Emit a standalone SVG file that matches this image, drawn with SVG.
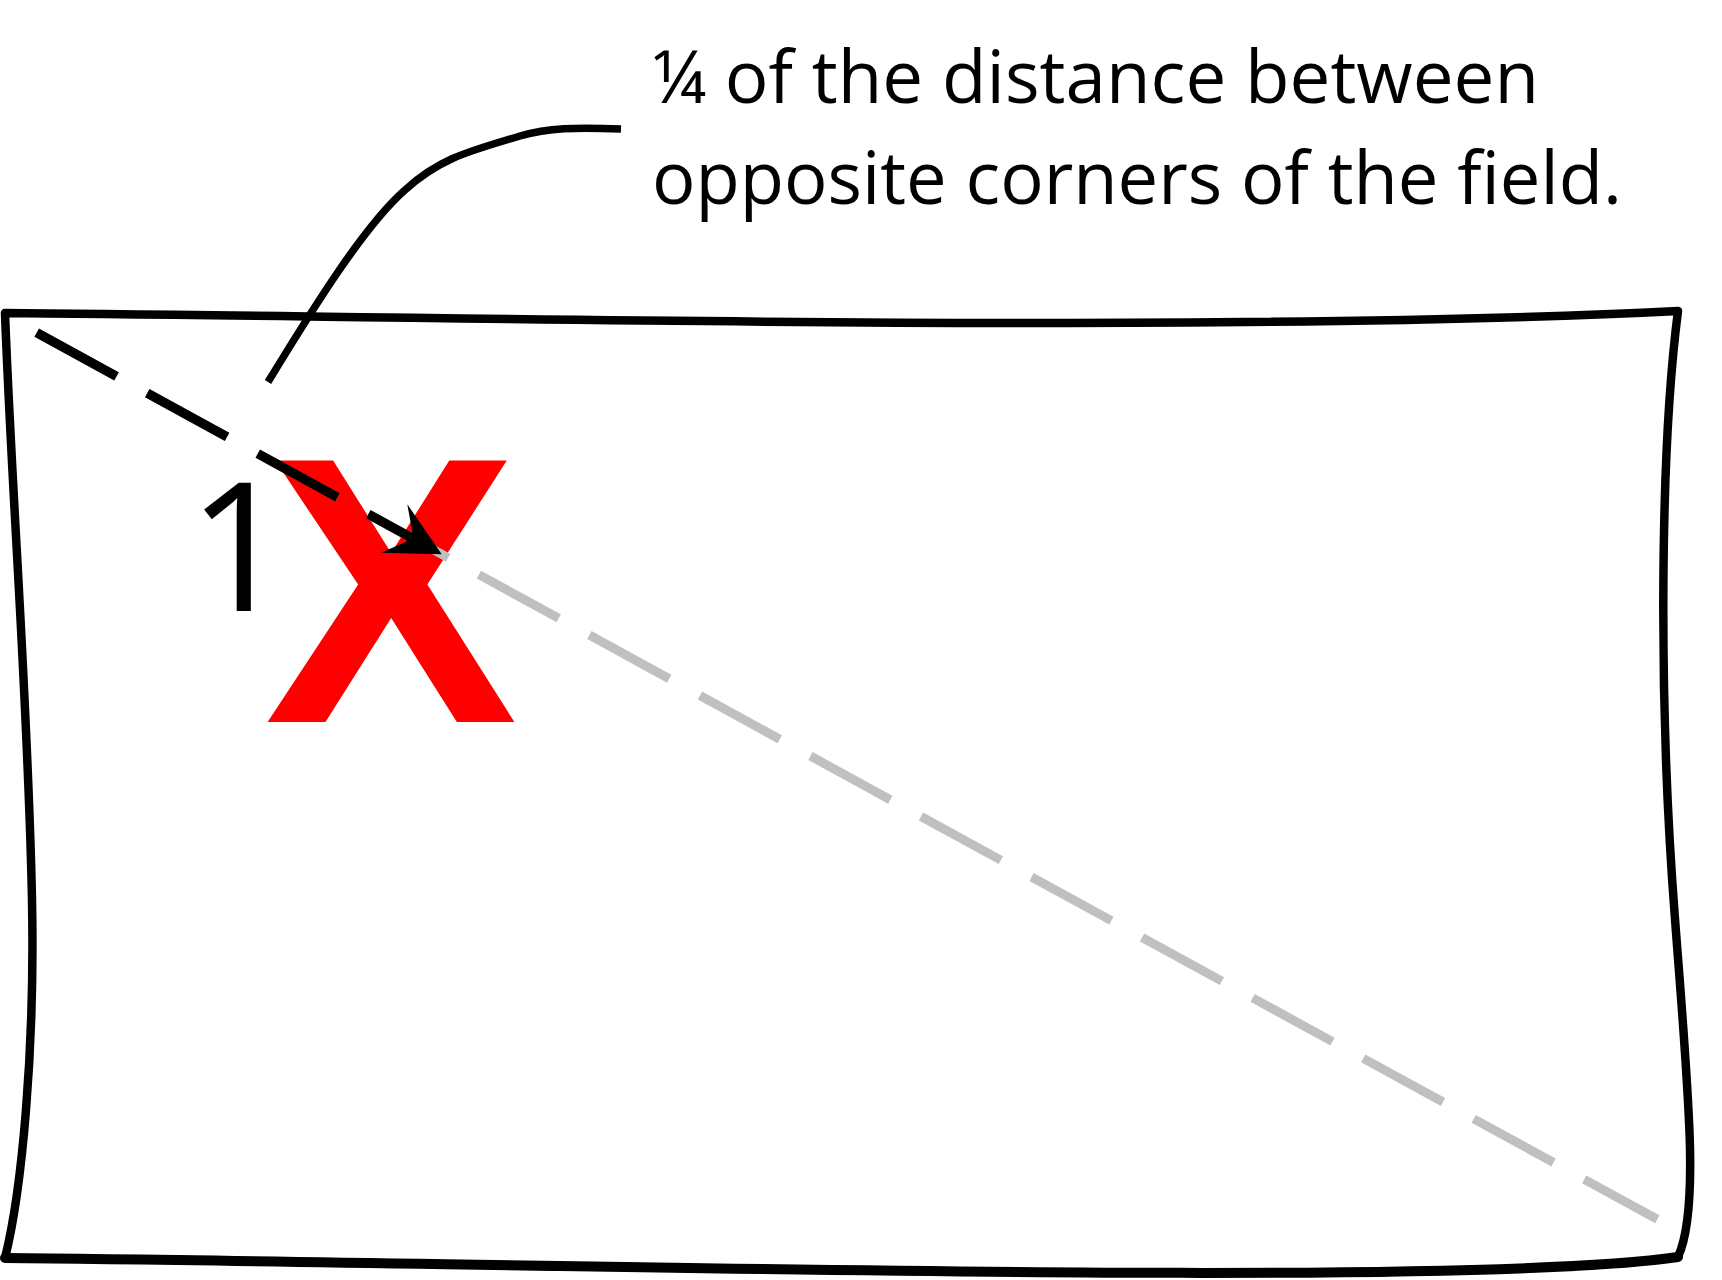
<svg xmlns="http://www.w3.org/2000/svg" width="1722" height="1280" viewBox="0 0 1722 1280">
  <style>
    .edge { fill: none; stroke: #000000; stroke-width: 8.5; stroke-linejoin: round; }
    .edge-heavy { fill: none; stroke: #000000; stroke-width: 10; stroke-linecap: round; }
    .dash-gray { fill: none; stroke: #c0c0c0; stroke-width: 9; stroke-dasharray: 91 35; stroke-linecap: butt; }
    .dash-black { fill: none; stroke: #000000; stroke-width: 9.5; stroke-dasharray: 91 35; stroke-linecap: butt; }
    .leader { fill: none; stroke: #000000; stroke-width: 7.5; stroke-linecap: butt; }
    .label { font-family: "Open Sans", "Noto Sans", "Liberation Sans", sans-serif; font-size: 74px; fill: #000000; }
  </style>
  <rect width="1722" height="1280" fill="#ffffff"/>
  <g id="field">
    <path class="edge" d="M5,313 C400,316 1200,335 1678,311 C1660,450 1658,700 1675,919 C1688,1090 1700,1210 1678,1257 C1450,1290 500,1262 5,1258 C22,1190 35,1050 32,900 C28,700 12,500 5,313 Z"/>
    <path class="edge-heavy" d="M1678,1257 C1450,1290 500,1262 5,1258"/>
  </g>
  <g id="marker-x">
    <text x="391" y="722" text-anchor="middle" font-family="'Liberation Sans', Arial, sans-serif" font-weight="bold" font-size="380" fill="#ff0000">X</text>
  </g>
  <g id="number-1">
    <text x="188" y="611" font-family="'Open Sans', 'Noto Sans', sans-serif" font-size="179" fill="#000000">1</text>
  </g>
  <g id="connectors">
    <line class="dash-gray" x1="36.7" y1="332.7" x2="1657.3" y2="1219.3"/>
    <line class="dash-black" x1="36.7" y1="332.7" x2="413.9" y2="539.1"/>
    <polygon points="441.7,554.2 407.3,504.3 412.3,531.7 406,541.7 381,552.7" fill="#000000"/>
    <path class="leader" d="M621,129 C575,127 548,128 520,136 C470,151 440,158 405,190 C365,225 315,305 268,382"/>
  </g>
  <g id="label">
    <text class="label" x="652" y="103" textLength="887" lengthAdjust="spacingAndGlyphs">¼ of the distance between</text>
    <text class="label" x="652" y="204" textLength="970" lengthAdjust="spacingAndGlyphs">opposite corners of the field.</text>
  </g>
</svg>
